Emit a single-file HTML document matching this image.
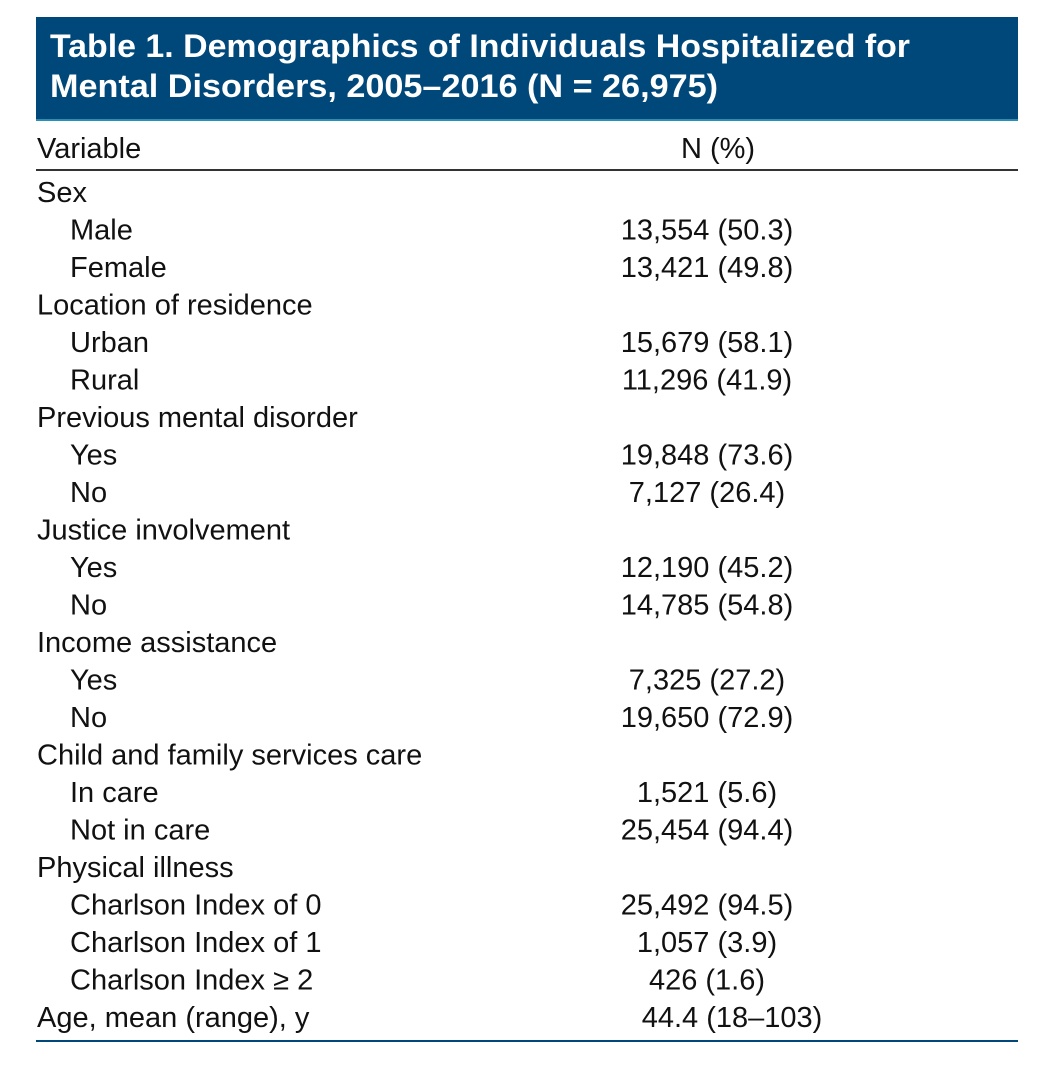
<!DOCTYPE html>
<html><head><meta charset="utf-8"><style>
html,body{margin:0;padding:0;background:#fff;}
svg{display:block;font-family:"Liberation Sans",sans-serif;}
</style></head><body>
<svg width="1038" height="1068" viewBox="0 0 1038 1068">
<rect x="36" y="17" width="982" height="103" fill="#00487a"/>
<line x1="36" y1="120" x2="1018" y2="120" stroke="#2a8fb0" stroke-width="2"/>
<text x="50" y="57" fill="#fff" font-weight="bold" font-size="32" textLength="860" lengthAdjust="spacingAndGlyphs">Table 1. Demographics of Individuals Hospitalized for</text>
<text x="50" y="97" fill="#fff" font-weight="bold" font-size="32" textLength="668" lengthAdjust="spacingAndGlyphs">Mental Disorders, 2005–2016 (N = 26,975)</text>
<text x="37" y="158" font-size="29" fill="#111">Variable</text>
<text x="718" y="158" font-size="29" fill="#111" text-anchor="middle">N (%)</text>
<line x1="36" y1="170" x2="1018" y2="170" stroke="#333" stroke-width="2"/>
<g id="rows" font-size="29" fill="#111"></g>
<line x1="36" y1="1041" x2="1018" y2="1041" stroke="#00487a" stroke-width="2"/>
</svg>
<script>
const labels=["Sex","Male","Female","Location of residence","Urban","Rural","Previous mental disorder","Yes","No","Justice involvement","Yes","No","Income assistance","Yes","No","Child and family services care","In care","Not in care","Physical illness","Charlson Index of 0","Charlson Index of 1","Charlson Index ≥ 2","Age, mean (range), y"];
const indents=[0,1,1,0,1,1,0,1,1,0,1,1,0,1,1,0,1,1,0,1,1,1,0];
const values=["","13,554 (50.3)","13,421 (49.8)","","15,679 (58.1)","11,296 (41.9)","","19,848 (73.6)","7,127 (26.4)","","12,190 (45.2)","14,785 (54.8)","","7,325 (27.2)","19,650 (72.9)","","1,521 (5.6)","25,454 (94.4)","","25,492 (94.5)","1,057 (3.9)","426 (1.6)","44.4 (18–103)"];
const g=document.getElementById('rows');
const NS="http://www.w3.org/2000/svg";
labels.forEach((l,i)=>{
  const y=202+i*37.5;
  const t=document.createElementNS(NS,'text');
  t.setAttribute('x',indents[i]?70:37);t.setAttribute('y',y);t.textContent=l;
  
  
  g.appendChild(t);
  if(values[i]){
    const v=document.createElementNS(NS,'text');
    v.setAttribute('x',i===22?732:707);v.setAttribute('y',y);v.setAttribute('text-anchor','middle');v.textContent=values[i];
    
    
    g.appendChild(v);
  }
});
</script>
</body></html>
